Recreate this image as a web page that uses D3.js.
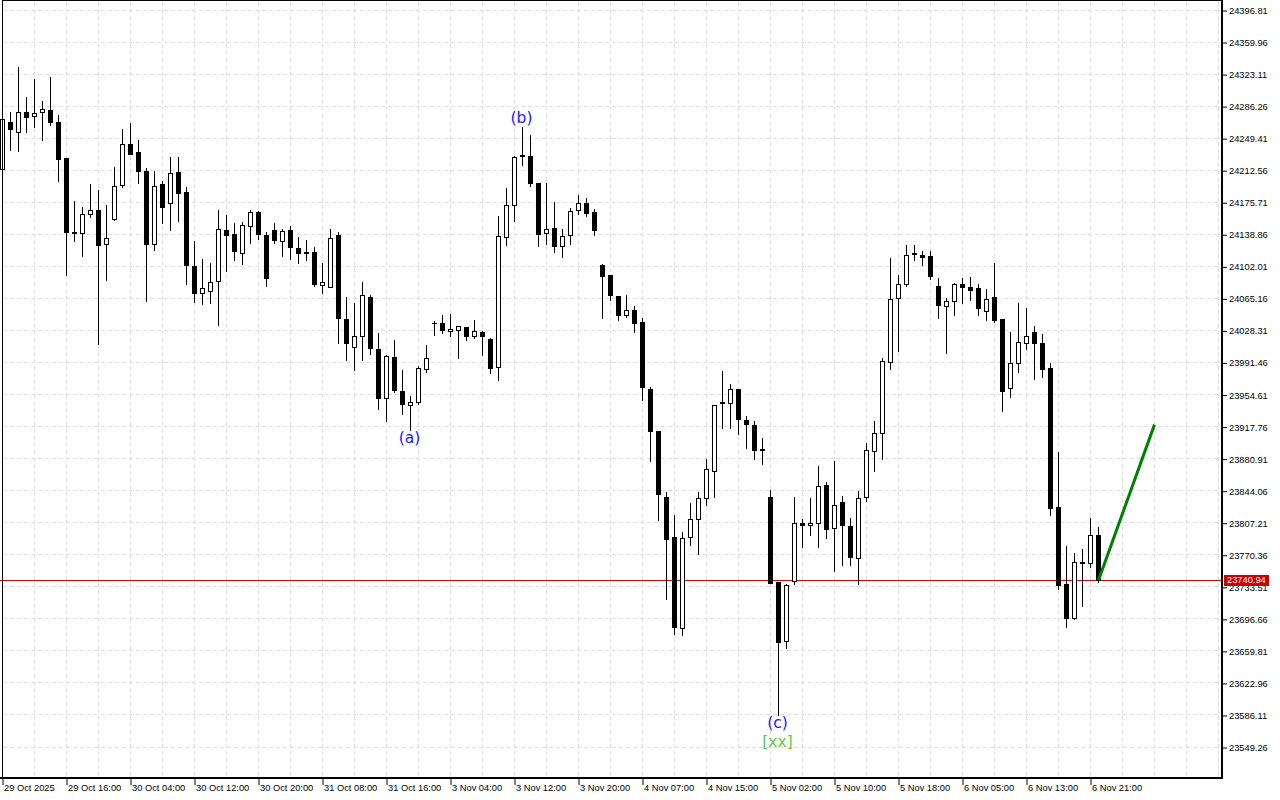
<!DOCTYPE html>
<html><head><meta charset="utf-8">
<script src="https://cdn.jsdelivr.net/npm/d3@7"></script>
<style>
html,body{margin:0;padding:0;background:#fff;}
svg{display:block;}
text{font-family:"Liberation Sans",Arial,sans-serif;}
</style></head>
<body>
<svg id="chart" width="1280" height="800"></svg>
<script>
// ---- data (H1 candles) ----
const opens = [24213.6,24268.0,24256.2,24279.2,24274.6,24279.2,24281.8,24268.0,24225.5,24140.4,
24140.0,24161.9,24165.7,24127.4,24156.1,24194.7,24242.7,24233.5,24211.6,24127.4,
24195.6,24174.5,24210.5,24187.5,24102.4,24071.0,24073.3,24084.8,24143.8,24139.2,
24117.0,24148.1,24164.2,24138.0,24143.5,24130.8,24143.5,24123.1,24117.7,24118.5,
24080.2,24078.2,24138.0,24041.1,24008.9,24021.6,24066.7,24006.9,23949.8,23997.7,
23958.6,23942.2,23945.7,23983.6,24036.5,24036.5,24027.3,24028.5,24031.9,24021.1,
24026.5,24018.4,23985.9,24135.4,24171.7,24228.9,24228.6,24197.5,24140.0,24146.1,
24125.1,24137.7,24166.5,24174.5,24164.5,24102.7,24092.0,24067.9,24045.7,24051.5,
24038.0,23960.6,23912.3,23836.4,23790.4,23685.3,23790.4,23811.1,23835.3,23866.3,
23944.5,23944.5,23960.6,23925.0,23919.2,23891.1,23836.4,23738.8,23670.8,23739.3,
23806.5,23803.7,23806.5,23850.2,23800.8,23831.0,23803.1,23766.3,23836.4,23889.3,
23910.0,23991.7,24065.3,24081.4,24115.9,24115.0,24113.6,24079.1,24056.1,24061.8,
24081.7,24078.2,24076.8,24050.3,24066.4,24041.1,23961.8,23990.5,24013.5,24026.5,
24013.8,23985.1,23825.2,23736.7,23696.8,23760.5,23760.5,23792.7];
const highs = [24272.6,24279.8,24331.6,24297.9,24317.5,24292.2,24320.1,24276.1,24227.4,24177.2,
24170.6,24197.8,24190.9,24172.6,24216.6,24261.1,24268.0,24248.4,24215.9,24211.7,
24201.3,24227.8,24227.8,24194.4,24132.3,24111.6,24107.0,24167.9,24161.4,24153.0,
24153.8,24167.9,24166.0,24141.8,24153.0,24145.3,24148.7,24136.9,24133.1,24125.1,
24107.0,24145.8,24142.6,24067.9,24060.2,24085.1,24069.5,24026.5,24001.2,24018.4,
23983.1,23954.0,23988.5,24012.7,24039.7,24047.2,24048.3,24033.5,24032.5,24041.1,
24028.0,24020.7,24160.7,24192.9,24229.2,24262.6,24254.2,24198.5,24199.0,24177.1,
24146.1,24169.9,24184.9,24181.4,24169.1,24105.6,24093.0,24068.8,24070.2,24057.2,
24042.9,23964.4,23913.5,23843.3,23817.2,23797.6,23831.0,23843.6,23881.3,23943.7,
23982.8,23967.5,23962.1,23930.7,23924.7,23905.4,23845.7,23739.6,23737.0,23837.6,
23812.3,23836.4,23873.2,23855.1,23879.0,23838.2,23813.4,23844.0,23899.7,23925.0,
23997.7,24112.7,24093.2,24127.7,24127.7,24120.8,24120.8,24089.7,24066.7,24083.2,
24089.7,24090.9,24082.0,24077.1,24106.8,24041.5,24027.6,24060.7,24054.9,24034.2,
24025.3,23991.7,23889.6,23781.5,23773.5,23778.1,23812.9,23803.4];
const lows = [24212.8,24235.8,24233.8,24255.7,24261.4,24247.3,24264.5,24199.3,24091.2,24131.1,
24113.1,24158.4,24011.6,24085.5,24155.3,24192.4,24230.4,24197.1,24061.3,24120.0,
24151.0,24143.0,24153.3,24080.9,24060.2,24057.9,24059.1,24033.7,24095.8,24108.5,
24103.9,24128.0,24132.6,24078.6,24128.5,24113.1,24109.6,24105.0,24108.5,24078.6,
24070.5,24077.9,24013.0,23994.3,23982.8,23994.3,24000.9,23937.9,23923.3,23957.5,
23931.9,23913.8,23943.7,23979.9,24022.5,24025.0,24021.1,23996.6,24016.5,24018.8,
24000.0,23978.5,23970.5,24125.7,24153.3,24217.7,24193.6,24124.6,24127.7,24117.7,
24111.9,24126.9,24161.4,24159.1,24137.2,24041.8,24063.3,24039.5,24042.9,24025.7,
23947.5,23877.3,23809.5,23718.6,23678.9,23677.2,23780.7,23770.4,23826.7,23835.9,
23915.3,23915.3,23908.4,23892.3,23879.6,23874.3,23737.0,23586.0,23662.3,23736.3,
23779.2,23792.2,23778.4,23788.8,23750.8,23758.2,23758.2,23736.3,23831.3,23865.8,
23880.4,23983.1,24003.8,24078.6,24108.5,24102.7,24087.1,24041.8,24002.3,24045.2,
24059.8,24063.0,24045.2,24039.5,24037.4,23934.8,23950.9,23979.7,24006.9,23971.6,
23973.9,23815.2,23730.1,23687.2,23696.0,23711.4,23755.4,23738.2];
const closes = [24271.1,24259.2,24279.2,24273.4,24278.0,24282.6,24267.2,24225.1,24140.7,24139.8,
24162.2,24165.7,24125.7,24134.3,24194.4,24242.7,24231.2,24210.8,24127.4,24194.1,
24169.4,24209.0,24186.0,24102.7,24070.8,24076.8,24083.7,24144.6,24137.3,24118.8,
24149.2,24164.2,24138.4,24087.8,24131.5,24142.6,24123.4,24116.5,24117.2,24080.9,
24083.7,24134.3,24042.3,24013.0,24021.9,24068.7,24007.3,23949.8,23998.9,23959.0,
23943.4,23945.7,23984.8,23996.3,24036.0,24028.5,24029.9,24032.6,24021.1,24027.3,
24021.1,23984.3,24136.6,24171.7,24227.4,24229.4,24197.0,24138.4,24144.9,24124.6,
24136.6,24165.6,24174.5,24162.5,24143.0,24090.1,24068.2,24045.2,24051.5,24036.0,
23962.9,23911.8,23839.4,23787.6,23686.4,23789.3,23811.1,23835.3,23868.6,23942.2,
23945.0,23960.6,23925.6,23920.1,23890.0,23890.6,23737.3,23669.2,23735.5,23806.5,
23803.7,23806.5,23849.1,23799.1,23827.2,23803.7,23766.9,23834.8,23890.0,23910.0,
23992.8,24064.1,24081.4,24114.7,24116.4,24111.9,24090.1,24056.7,24061.8,24081.7,
24077.4,24074.5,24053.3,24064.1,24039.4,23957.8,23990.5,24014.7,24021.6,24013.5,
23983.1,23823.3,23734.7,23696.8,23762.0,23761.0,23792.7,23740.94];

const timeLabels = ["29 Oct 2025","29 Oct 16:00","30 Oct 04:00","30 Oct 12:00","30 Oct 20:00",
"31 Oct 08:00","31 Oct 16:00","3 Nov 04:00","3 Nov 12:00","3 Nov 20:00","4 Nov 07:00",
"4 Nov 15:00","5 Nov 02:00","5 Nov 10:00","5 Nov 18:00","6 Nov 05:00","6 Nov 13:00","6 Nov 21:00"];
const timeLabelBars = [0,8,16,24,32,40,48,56,64,72,80,88,96,104,112,120,128,136];

const priceTicks = [24396.81,24359.96,24323.11,24286.26,24249.41,24212.56,24175.71,24138.86,
24102.01,24065.16,24028.31,23991.46,23954.61,23917.76,23880.91,23844.06,23807.21,23770.36,
23733.51,23696.66,23659.81,23622.96,23586.11,23549.26];

const currentPrice = 23740.94;
const projection = {fromBar: 137, toBar: 144, toPrice: 23920};
const waveLabels = [
  {bar: 51, text: "(a)", pos: "below"},
  {bar: 65, text: "(b)", pos: "above"},
  {bar: 97, text: "(c)", pos: "below"}
];
const extraLabel = {bar: 97, text: "[xx]"};

// ---- layout ----
const W = 1280, H = 800;
const plotRight = 1222, plotBottom = 778;
const svg = d3.select("#chart");
svg.append("rect").attr("width", W).attr("height", H).attr("fill", "#fff");

const x = d3.scaleLinear().domain([0, 152]).range([2.5, 2.5 + 8 * 152]);
const y = d3.scaleLinear().domain([23549.26, 24396.81]).range([747, 10]);
const snap = v => Math.round(v - 0.5) + 0.5;

// grid
const grid = svg.append("g").attr("stroke", "#dedede").attr("stroke-dasharray", "4,3").attr("stroke-width", 1);
grid.selectAll("line.h").data(priceTicks).join("line")
  .attr("x1", 3).attr("x2", plotRight - 1)
  .attr("y1", d => snap(y(d))).attr("y2", d => snap(y(d)));
grid.selectAll("line.v").data(d3.range(4, 153, 4)).join("line")
  .attr("x1", d => x(d)).attr("x2", d => x(d))
  .attr("y1", 2).attr("y2", plotBottom - 1);

// current price line
svg.append("line").attr("x1", 0).attr("x2", plotRight)
  .attr("y1", snap(y(currentPrice))).attr("y2", snap(y(currentPrice)))
  .attr("stroke", "#e00000").attr("stroke-width", 1);

// candles
const candles = opens.map((o, i) => ({i, o, h: highs[i], l: lows[i], c: closes[i]}));
const cg = svg.append("g").attr("stroke", "#000").attr("stroke-width", 1).attr("shape-rendering", "crispEdges");
candles.forEach(d => {
  const cx = x(d.i);
  const yh = snap(y(d.h)), yl = snap(y(d.l));
  const yo = snap(y(d.o)), yc = snap(y(d.c));
  cg.append("line").attr("x1", cx).attr("x2", cx).attr("y1", yh).attr("y2", yl);
  if (Math.abs(yo - yc) < 1) {
    cg.append("line").attr("x1", cx - 2.5).attr("x2", cx + 2.5).attr("y1", yo).attr("y2", yo);
  } else {
    const top = Math.min(yo, yc), bot = Math.max(yo, yc);
    cg.append("rect").attr("x", cx - 2).attr("width", 4)
      .attr("y", top).attr("height", bot - top)
      .attr("fill", d.c >= d.o ? "#fff" : "#000");
  }
});

// projection line
svg.append("line")
  .attr("x1", x(projection.fromBar)).attr("y1", y(closes[projection.fromBar]))
  .attr("x2", x(projection.toBar)).attr("y2", y(projection.toPrice))
  .attr("stroke", "#008000").attr("stroke-width", 3).attr("stroke-linecap", "butt");

// wave labels
waveLabels.forEach(w => {
  const yy = w.pos === "below" ? y(lows[w.bar]) + 8 : y(highs[w.bar]) - 9;
  svg.append("text").attr("x", x(w.bar) - 1).attr("y", yy)
    .attr("text-anchor", "middle").attr("dominant-baseline", "central")
    .style("font-family", "'DejaVu Sans', sans-serif").style("font-size", "15.5px")
    .attr("fill", "#1a1aff").text(w.text);
});
svg.append("text").attr("x", x(extraLabel.bar) - 1).attr("y", y(lows[extraLabel.bar]) + 27)
  .attr("text-anchor", "middle").attr("dominant-baseline", "central")
  .style("font-family", "'DejaVu Sans', sans-serif").style("font-size", "15.5px")
  .attr("fill", "#5ccc3a").text(extraLabel.text);

// frame
svg.append("rect").attr("x", 2.5).attr("y", 0.5).attr("width", plotRight - 3).attr("height", plotBottom - 1)
  .attr("fill", "none").attr("stroke", "#000").attr("stroke-width", 1).attr("shape-rendering", "crispEdges");
svg.append("line").attr("x1", plotRight).attr("x2", plotRight).attr("y1", 0).attr("y2", plotBottom + 1)
  .attr("stroke", "#000").attr("stroke-width", 2);
svg.append("line").attr("x1", 0).attr("x2", plotRight + 1).attr("y1", plotBottom).attr("y2", plotBottom)
  .attr("stroke", "#000").attr("stroke-width", 2);

// right axis
const yAxis = d3.axisRight(y).tickValues(priceTicks).tickSize(4).tickPadding(2).tickFormat(d3.format(".2f"));
const ya = svg.append("g").attr("transform", `translate(${plotRight + 1},0.5)`).call(yAxis);
ya.select(".domain").remove();
ya.selectAll("line").attr("stroke", "#000");
ya.selectAll("text").style("font-family", "'Liberation Sans', Arial, sans-serif").style("font-size", "9.3px").attr("fill", "#000");

// bottom axis
const xAxis = d3.axisBottom(x).tickValues(timeLabelBars).tickSize(6).tickFormat((d, i) => timeLabels[i]);
const xa = svg.append("g").attr("transform", `translate(0,${plotBottom + 1})`).call(xAxis);
xa.select(".domain").remove();
xa.selectAll("line").attr("stroke", "#000");
xa.selectAll("text").attr("text-anchor", "start").attr("x", 1).attr("y", 5).attr("dy", "0.71em")
  .style("font-family", "'Liberation Sans', Arial, sans-serif").style("font-size", "9.3px").attr("fill", "#000");

// current price tag
const cpY = y(currentPrice);
svg.append("rect").attr("x", 1224).attr("y", Math.round(cpY) - 5).attr("width", 45).attr("height", 11)
  .attr("fill", "#cc0000");
svg.append("text").attr("x", 1227).attr("y", cpY).attr("dominant-baseline", "central")
  .style("font-size", "9.3px").attr("fill", "#fff").text(d3.format(".2f")(currentPrice));
</script>
</body></html>
